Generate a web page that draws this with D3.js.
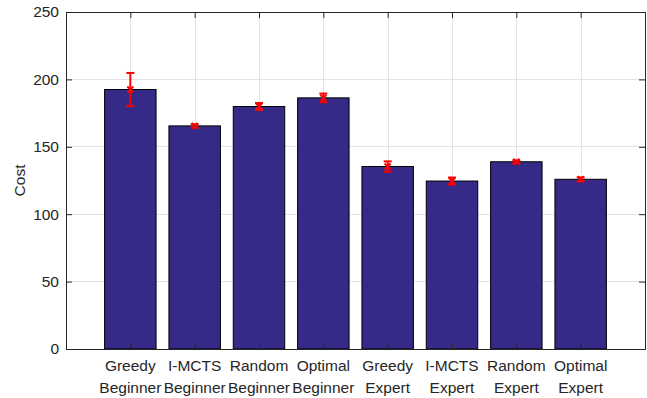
<!DOCTYPE html>
<html>
<head>
<meta charset="utf-8">
<script src="https://cdn.jsdelivr.net/npm/d3@7/dist/d3.min.js"></script>
<style>
  html, body { margin: 0; padding: 0; background: #fff; }
  svg { display: block; font-family: "Liberation Sans", Arial, Helvetica, sans-serif; }
</style>
</head>
<body>
<svg id="chart" width="647" height="398"></svg>
<script>
const methods = ["Greedy", "I-MCTS", "Random", "Optimal", "Greedy", "I-MCTS", "Random", "Optimal"];
const levels = ["Beginner", "Beginner", "Beginner", "Beginner", "Expert", "Expert", "Expert", "Expert"];
const values = [192.5, 165.5, 179.9, 186.3, 135.4, 124.6, 138.9, 125.9];
const errors = [12.3, 1.2, 2.6, 3.2, 3.8, 2.6, 1.0, 1.4];
const yTicks = [0, 50, 100, 150, 200, 250];
const yLabel = "Cost";

const svg = d3.select("#chart");
const L = 66, R = 645, T = 12, B = 349;
const x = d3.scaleLinear().domain([0, methods.length + 1]).range([L, R]);
const y = d3.scaleLinear().domain([0, 250]).range([B, T]);
const idx = d3.range(methods.length);
const textColor = "#262626";
const axisColor = "#262626";
const fs = "15.5px";

// grid
const grid = svg.append("g");
grid.selectAll("line.gy").data(yTicks.slice(1, -1)).join("line")
  .attr("x1", L).attr("x2", R).attr("y1", d => y(d)).attr("y2", d => y(d))
  .attr("stroke", "#e3e3e3").attr("stroke-width", 1).attr("shape-rendering", "crispEdges");
grid.selectAll("line.gx").data(idx).join("line")
  .attr("x1", d => Math.round(x(d + 1)) + 0.5).attr("x2", d => Math.round(x(d + 1)) + 0.5)
  .attr("y1", T).attr("y2", B)
  .attr("stroke", "#e3e3e3").attr("stroke-width", 1);

// bars
const bw = 0.8;
svg.append("g").selectAll("rect").data(idx).join("rect")
  .attr("x", d => x(d + 1 - bw / 2))
  .attr("width", d => x(d + 1 + bw / 2) - x(d + 1 - bw / 2))
  .attr("y", d => y(values[d]))
  .attr("height", d => y(0) - y(values[d]))
  .attr("fill", "#352a87").attr("stroke", "#000").attr("stroke-width", 1);

// axes box
const axG = svg.append("g");
const yAxL = d3.axisLeft(y).tickValues(yTicks).tickSize(-6).tickPadding(7).tickFormat(d3.format("d"));
const gL = axG.append("g").attr("transform", `translate(${L},0)`).call(yAxL);
const yAxR = d3.axisRight(y).tickValues(yTicks).tickSize(-6).tickFormat("");
const gR = axG.append("g").attr("transform", `translate(${R},0)`).call(yAxR);
const xAxB = d3.axisBottom(x).tickValues(idx.map(d => d + 1)).tickSize(-6).tickFormat("");
const gB = axG.append("g").attr("transform", `translate(0,${B})`).call(xAxB);
const xAxT = d3.axisTop(x).tickValues(idx.map(d => d + 1)).tickSize(-6).tickFormat("");
const gT = axG.append("g").attr("transform", `translate(0,${T})`).call(xAxT);
[gL, gR, gB, gT].forEach(g => {
  g.select(".domain").attr("stroke", axisColor).attr("stroke-width", 1);
  g.selectAll(".tick line").attr("stroke", axisColor);
});
gL.selectAll(".tick text").attr("fill", textColor).attr("font-size", fs)
  .attr("font-family", "Liberation Sans, Arial, sans-serif");

// x labels (two lines)
const xl = svg.append("g");
xl.selectAll("text.m").data(idx).join("text")
  .attr("x", d => x(d + 1)).attr("y", 371).attr("text-anchor", "middle")
  .attr("font-size", fs).attr("fill", textColor).text(d => methods[d]);
xl.selectAll("text.l").data(idx).join("text")
  .attr("x", d => x(d + 1)).attr("y", 393).attr("text-anchor", "middle")
  .attr("font-size", fs).attr("fill", textColor).text(d => levels[d]);

// y label
svg.append("text").attr("transform", `translate(25,${(T + B) / 2}) rotate(-90)`)
  .attr("text-anchor", "middle").attr("font-size", fs).attr("fill", textColor).text(yLabel);

// error bars
const eg = svg.append("g").attr("stroke", "#ff0000").attr("stroke-width", 2).attr("fill", "none");
const cap = 4;
idx.forEach(i => {
  const cx = x(i + 1);
  const y1 = y(values[i] + errors[i]), y2 = y(values[i] - errors[i]), yc = y(values[i]);
  eg.append("line").attr("x1", cx).attr("x2", cx).attr("y1", y1).attr("y2", y2);
  eg.append("line").attr("x1", cx - cap).attr("x2", cx + cap).attr("y1", y1).attr("y2", y1);
  eg.append("line").attr("x1", cx - cap).attr("x2", cx + cap).attr("y1", y2).attr("y2", y2);
  const m = 3;
  eg.append("line").attr("x1", cx - m).attr("x2", cx + m).attr("y1", yc - m).attr("y2", yc + m);
  eg.append("line").attr("x1", cx - m).attr("x2", cx + m).attr("y1", yc + m).attr("y2", yc - m);
});
</script>
</body>
</html>
